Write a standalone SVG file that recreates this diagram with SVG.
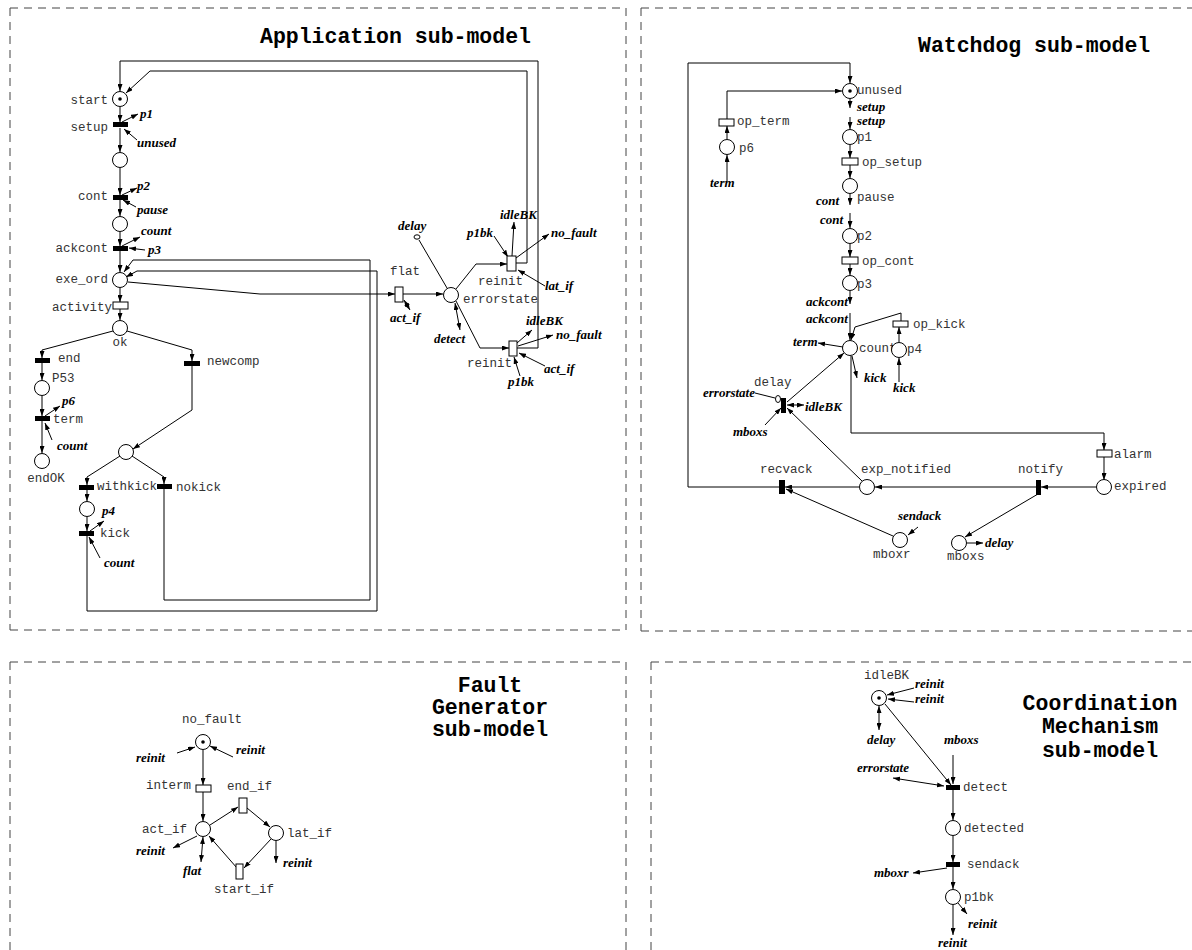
<svg xmlns="http://www.w3.org/2000/svg" width="1192" height="950" viewBox="0 0 1192 950">
<style>
.pl{fill:#fff;stroke:#000;stroke-width:1}
.tk{fill:#000}
.tb{fill:#000}
.tw{fill:#fff;stroke:#000;stroke-width:1}
.lb{font-family:"Liberation Mono",monospace;font-size:12.5px;fill:#333}
.rf{font-family:"Liberation Serif",serif;font-style:italic;font-weight:bold;font-size:13px;fill:#000}
.tt{font-family:"Liberation Mono",monospace;font-weight:bold;font-size:21.5px;fill:#000}
.a{fill:none;stroke:#000;stroke-width:1;marker-end:url(#ah)}
.d{fill:none;stroke:#000;stroke-width:1;marker-end:url(#ah);marker-start:url(#ah)}
.ln{fill:none;stroke:#000;stroke-width:1}
.dash{fill:none;stroke:#444;stroke-width:1;stroke-dasharray:8 6}
</style>
<defs>
<marker id="ah" viewBox="0 0 7 5" refX="7" refY="2.5" markerWidth="7" markerHeight="5" markerUnits="userSpaceOnUse" orient="auto-start-reverse"><path d="M0,0 L7,2.5 L0,5 z" fill="#000"/></marker>
</defs>
<rect width="1192" height="950" fill="#fff"/>

<!-- panel borders -->
<g id="panels">
<path class="dash" d="M10,8 H626"/>
<path class="dash" d="M10,8 V630"/>
<path class="dash" d="M10,630 H626"/>
<path class="dash" d="M626,8 V630"/>
<path class="dash" d="M641,8 H1192"/>
<path class="dash" d="M641,8 V631"/>
<path class="dash" d="M641,631 H1192"/>
<path class="dash" d="M10,662 H626"/>
<path class="dash" d="M10,662 V950"/>
<path class="dash" d="M626,662 V950"/>
<path class="dash" d="M651,662 H1192"/>
<path class="dash" d="M651,662 V950"/>
</g>

<!-- titles -->
<g id="titles">
<text class="tt" x="260" y="43">Application sub-model</text>
<text class="tt" x="918" y="52">Watchdog sub-model</text>
<text class="tt" x="490" y="692" text-anchor="middle">Fault</text>
<text class="tt" x="490" y="714" text-anchor="middle">Generator</text>
<text class="tt" x="490" y="736" text-anchor="middle">sub-model</text>
<text class="tt" x="1100" y="710" text-anchor="middle">Coordination</text>
<text class="tt" x="1100" y="733" text-anchor="middle">Mechanism</text>
<text class="tt" x="1100" y="757" text-anchor="middle">sub-model</text>
</g>

<!-- connectors -->
<g id="connectors">
<!-- application -->
<path class="a" d="M120,107 L120,122"/>
<path class="a" d="M122,122 L138,114"/>
<path class="a" d="M137,140 L124,129"/>
<path class="a" d="M120,128 L120,152"/>
<path class="a" d="M120,168 L120,195"/>
<path class="a" d="M122,195 L137,188"/>
<path class="a" d="M136,207 L123,200"/>
<path class="a" d="M120,200 L120,216"/>
<path class="a" d="M120,232 L120,246"/>
<path class="a" d="M122,246 L140,237"/>
<path class="a" d="M145,250 L129,248"/>
<path class="a" d="M120,251 L120,272"/>
<path class="a" d="M120,288 L120,302"/>
<path class="a" d="M120,309 L120,320"/>
<path class="a" d="M113,331 L42,350 L42,358"/>
<path class="a" d="M127,331 L192,350 L192,361"/>
<path class="a" d="M42,363 L42,380"/>
<path class="a" d="M42,396 L42,416"/>
<path class="a" d="M45,416 L60,406"/>
<path class="a" d="M52,440 L45,423"/>
<path class="a" d="M42,421 L42,453"/>
<path class="a" d="M192,366 L192,410 L133,449"/>
<path class="a" d="M120,456 L87,477 L87,485"/>
<path class="a" d="M132,456 L164,477 L164,484"/>
<path class="a" d="M87,490 L87,501"/>
<path class="a" d="M87,517 L87,531"/>
<path class="a" d="M90,531 L104,521"/>
<path class="a" d="M100,558 L89,537"/>
<path class="a" d="M87,536 L87,611 L377,611 L377,271 L137,271 L126,277"/>
<path class="a" d="M164,489 L164,600 L370,600 L370,260 L133,260 L124,272"/>
<path class="a" d="M128,282 L260,294 L395,294"/>
<path class="d" d="M404,300 L410,310"/>
<path class="a" d="M403,294 L443,294"/>
<path class="ln" d="M419,240 L447,288"/>
<ellipse class="pl" cx="417" cy="237" rx="3" ry="2.2"/>
<path class="d" d="M455,303 L460,330"/>
<path class="a" d="M456,289 L476,264 L507,264"/>
<path class="a" d="M456,301 L480,348 L509,348"/>
<path class="a" d="M512,256 L514,222"/>
<path class="a" d="M494,236 L508,257"/>
<path class="a" d="M516,258 L549,234"/>
<path class="a" d="M545,286 L518,270"/>
<path class="a" d="M516,263 L527,263 L527,71 L150,71 L126,93"/>
<path class="a" d="M517,348 L538,348 L538,61 L120,61 L120,91"/>
<path class="a" d="M517,343 L532,330"/>
<path class="a" d="M518,346 L553,335"/>
<path class="a" d="M545,366 L519,353"/>
<path class="a" d="M520,376 L514,357"/>
<!-- watchdog -->
<path class="a" d="M779,487 L688,487 L688,63 L850,63 L850,83"/>
<path class="a" d="M727,119 L727,91 L842,91"/>
<path class="a" d="M727,139 L727,126"/>
<path class="a" d="M727,182 L727,155"/>
<path class="a" d="M850,99 L850,108"/>
<path class="a" d="M850,117 L850,129"/>
<path class="a" d="M850,145 L850,158"/>
<path class="a" d="M850,165 L850,178"/>
<path class="a" d="M850,194 L850,205"/>
<path class="a" d="M850,213 L850,228"/>
<path class="a" d="M850,244 L850,257"/>
<path class="a" d="M850,264 L850,275"/>
<path class="a" d="M850,291 L850,304"/>
<path class="a" d="M850,313 L850,340"/>
<path class="a" d="M901,321 L901,313 L855,327 L851,340"/>
<path class="a" d="M899,342 L899,327"/>
<path class="a" d="M899,382 L899,358"/>
<path class="a" d="M852,356 L857,378"/>
<path class="a" d="M843,347 L818,343"/>
<path class="a" d="M787,402 L844,353"/>
<path class="ln" d="M755,393 L775,398"/>
<ellipse class="pl" cx="778" cy="399" rx="2.5" ry="3.5"/>
<path class="d" d="M787,405 L804,405"/>
<path class="a" d="M765,425 L781,408"/>
<path class="a" d="M862,481 L787,408"/>
<path class="a" d="M851,356 L851,433 L1104,433 L1104,450"/>
<path class="a" d="M1104,457 L1104,480"/>
<path class="a" d="M1096,487 L1041,487"/>
<path class="a" d="M1036,487 L875,487"/>
<path class="a" d="M859,487 L785,487"/>
<path class="a" d="M893,536 L786,489"/>
<path class="a" d="M918,527 L908,535"/>
<path class="a" d="M1038,494 L965,537"/>
<path class="a" d="M967,543 L983,543"/>
<!-- fault generator -->
<path class="a" d="M177,753 L195,747"/>
<path class="a" d="M233,757 L210,746"/>
<path class="a" d="M203,750 L203,785"/>
<path class="a" d="M203,792 L203,821"/>
<path class="a" d="M210,825 L238,807"/>
<path class="a" d="M247,808 L270,827"/>
<path class="a" d="M271,839 L244,868"/>
<path class="a" d="M237,868 L209,836"/>
<path class="a" d="M197,836 L173,848"/>
<path class="d" d="M203,837 L201,862"/>
<path class="a" d="M276,841 L276,863"/>
<!-- coordination -->
<path class="a" d="M914,688 L887,695"/>
<path class="a" d="M914,702 L888,699"/>
<path class="d" d="M879,706 L879,730"/>
<path class="a" d="M885,704 L951,785"/>
<path class="a" d="M953,755 L953,784"/>
<path class="d" d="M893,778 L944,786"/>
<path class="a" d="M953,790 L953,820"/>
<path class="a" d="M953,836 L953,862"/>
<path class="a" d="M947,868 L913,873"/>
<path class="a" d="M953,867 L953,889"/>
<path class="a" d="M958,903 L967,914"/>
<path class="a" d="M953,905 L953,935"/>

<!-- arc inscriptions naming places/transitions of other sub-models -->
<text class="rf" x="140" y="118">p1</text>
<text class="rf" x="137" y="147">unused</text>
<text class="rf" x="137" y="190">p2</text>
<text class="rf" x="137" y="214">pause</text>
<text class="rf" x="141" y="235">count</text>
<text class="rf" x="148" y="254">p3</text>
<text class="rf" x="62" y="405">p6</text>
<text class="rf" x="57" y="450">count</text>
<text class="rf" x="102" y="515">p4</text>
<text class="rf" x="104" y="567">count</text>
<text class="rf" x="398" y="230">delay</text>
<text class="rf" x="390" y="322">act_if</text>
<text class="rf" x="434" y="343">detect</text>
<text class="rf" x="500" y="219">idleBK</text>
<text class="rf" x="467" y="237">p1bk</text>
<text class="rf" x="551" y="237">no_fault</text>
<text class="rf" x="545" y="290">lat_if</text>
<text class="rf" x="526" y="325">idleBK</text>
<text class="rf" x="556" y="339">no_fault</text>
<text class="rf" x="544" y="373">act_if</text>
<text class="rf" x="508" y="386">p1bk</text>
<text class="rf" x="857" y="111">setup</text>
<text class="rf" x="857" y="125">setup</text>
<text class="rf" x="710" y="187">term</text>
<text class="rf" x="816" y="205">cont</text>
<text class="rf" x="820" y="224">cont</text>
<text class="rf" x="806" y="306">ackcont</text>
<text class="rf" x="806" y="323">ackcont</text>
<text class="rf" x="793" y="346">term</text>
<text class="rf" x="864" y="382">kick</text>
<text class="rf" x="893" y="392">kick</text>
<text class="rf" x="703" y="397">errorstate</text>
<text class="rf" x="805" y="411">idleBK</text>
<text class="rf" x="733" y="436">mboxs</text>
<text class="rf" x="898" y="520">sendack</text>
<text class="rf" x="985" y="547">delay</text>
<text class="rf" x="136" y="762">reinit</text>
<text class="rf" x="236" y="754">reinit</text>
<text class="rf" x="136" y="855">reinit</text>
<text class="rf" x="183" y="875">flat</text>
<text class="rf" x="283" y="867">reinit</text>
<text class="rf" x="915" y="688">reinit</text>
<text class="rf" x="915" y="703">reinit</text>
<text class="rf" x="867" y="744">delay</text>
<text class="rf" x="944" y="744">mboxs</text>
<text class="rf" x="857" y="772">errorstate</text>
<text class="rf" x="874" y="877">mboxr</text>
<text class="rf" x="968" y="928">reinit</text>
<text class="rf" x="938" y="947">reinit</text>
</g>

<!-- application sub-model nodes -->
<g id="app-start"><circle class="pl" cx="120" cy="99" r="7.5"/><circle class="tk" cx="120" cy="99" r="1.8"/><text class="lb" x="108" y="104" text-anchor="end">start</text></g>
<g id="app-setup"><rect class="tb" x="113" y="122" width="15" height="5"/><text class="lb" x="108" y="131" text-anchor="end">setup</text></g>
<g id="app-p-setup"><circle class="pl" cx="120" cy="160" r="7.5"/></g>
<g id="app-cont"><rect class="tb" x="113" y="195" width="15" height="5"/><text class="lb" x="108" y="200" text-anchor="end">cont</text></g>
<g id="app-p-cont"><circle class="pl" cx="120" cy="224" r="7.5"/></g>
<g id="app-ackcont"><rect class="tb" x="113" y="246" width="15" height="5"/><text class="lb" x="108" y="252" text-anchor="end">ackcont</text></g>
<g id="app-exe_ord"><circle class="pl" cx="120" cy="280" r="7.5"/><text class="lb" x="108" y="283" text-anchor="end">exe_ord</text></g>
<g id="app-activity"><rect class="tw" x="113" y="302" width="15" height="7"/><text class="lb" x="112" y="311" text-anchor="end">activity</text></g>
<g id="app-ok"><circle class="pl" cx="120" cy="328" r="7.5"/><text class="lb" x="120" y="346" text-anchor="middle">ok</text></g>
<g id="app-end"><rect class="tb" x="35" y="358" width="15" height="5"/><text class="lb" x="58" y="362">end</text></g>
<g id="app-newcomp"><rect class="tb" x="184" y="361" width="16" height="5"/><text class="lb" x="207" y="365">newcomp</text></g>
<g id="app-P53"><circle class="pl" cx="42" cy="388" r="7.5"/><text class="lb" x="52" y="382">P53</text></g>
<g id="app-term"><rect class="tb" x="35" y="416" width="15" height="5"/><text class="lb" x="53" y="423">term</text></g>
<g id="app-endOK"><circle class="pl" cx="42" cy="461" r="7.5"/><text class="lb" x="46" y="482" text-anchor="middle">endOK</text></g>
<g id="app-p-new"><circle class="pl" cx="126" cy="452" r="7.5"/></g>
<g id="app-withkick"><rect class="tb" x="79" y="485" width="15" height="5"/><text class="lb" x="97" y="490">withkick</text></g>
<g id="app-nokick"><rect class="tb" x="157" y="484" width="15" height="5"/><text class="lb" x="176" y="491">nokick</text></g>
<g id="app-p-kick"><circle class="pl" cx="87" cy="509" r="7.5"/></g>
<g id="app-kick"><rect class="tb" x="79" y="531" width="15" height="5"/><text class="lb" x="100" y="537">kick</text></g>
<g id="app-flat"><rect class="tw" x="395" y="287" width="8" height="15"/><text class="lb" x="390" y="275">flat</text></g>
<g id="app-errorstate"><circle class="pl" cx="451" cy="295" r="7.5"/><text class="lb" x="463" y="303">errorstate</text></g>
<g id="app-reinit1"><rect class="tw" x="507" y="256" width="9" height="15"/><text class="lb" x="478" y="285">reinit</text></g>
<g id="app-reinit2"><rect class="tw" x="509" y="341" width="8" height="15"/><text class="lb" x="467" y="367">reinit</text></g>

<!-- watchdog sub-model nodes -->
<g id="wd-unused"><circle class="pl" cx="850" cy="91" r="7.5"/><circle class="tk" cx="850" cy="91" r="1.8"/><text class="lb" x="857" y="94">unused</text></g>
<g id="wd-op_term"><rect class="tw" x="719" y="119" width="15" height="7"/><text class="lb" x="737" y="125">op_term</text></g>
<g id="wd-p6"><circle class="pl" cx="727" cy="147" r="7.5"/><text class="lb" x="739" y="152">p6</text></g>
<g id="wd-p1"><circle class="pl" cx="850" cy="137" r="7.5"/><text class="lb" x="857" y="141">p1</text></g>
<g id="wd-op_setup"><rect class="tw" x="842" y="158" width="16" height="7"/><text class="lb" x="862" y="166">op_setup</text></g>
<g id="wd-pause"><circle class="pl" cx="850" cy="186" r="7.5"/><text class="lb" x="857" y="201">pause</text></g>
<g id="wd-p2"><circle class="pl" cx="850" cy="236" r="7.5"/><text class="lb" x="857" y="240">p2</text></g>
<g id="wd-op_cont"><rect class="tw" x="842" y="257" width="16" height="7"/><text class="lb" x="862" y="265">op_cont</text></g>
<g id="wd-p3"><circle class="pl" cx="850" cy="283" r="7.5"/><text class="lb" x="857" y="288">p3</text></g>
<g id="wd-count"><circle class="pl" cx="850" cy="348" r="7.5"/><text class="lb" x="859" y="352">count</text></g>
<g id="wd-p4"><circle class="pl" cx="899" cy="350" r="7.5"/><text class="lb" x="907" y="353">p4</text></g>
<g id="wd-op_kick"><rect class="tw" x="893" y="321" width="15" height="6"/><text class="lb" x="913" y="328">op_kick</text></g>
<g id="wd-delay"><rect class="tb" x="781" y="398" width="5" height="15"/><text class="lb" x="754" y="386">delay</text></g>
<g id="wd-recvack"><rect class="tb" x="779" y="480" width="6" height="14"/><text class="lb" x="760" y="473">recvack</text></g>
<g id="wd-exp_notified"><circle class="pl" cx="867" cy="487" r="7.5"/><text class="lb" x="861" y="473">exp_notified</text></g>
<g id="wd-notify"><rect class="tb" x="1036" y="480" width="5" height="15"/><text class="lb" x="1018" y="473">notify</text></g>
<g id="wd-alarm"><rect class="tw" x="1097" y="450" width="15" height="7"/><text class="lb" x="1114" y="458">alarm</text></g>
<g id="wd-expired"><circle class="pl" cx="1104" cy="487" r="7.5"/><text class="lb" x="1114" y="490">expired</text></g>
<g id="wd-mboxr"><circle class="pl" cx="900" cy="540" r="7.5"/><text class="lb" x="873" y="558">mboxr</text></g>
<g id="wd-mboxs"><circle class="pl" cx="959" cy="543" r="7.5"/><text class="lb" x="947" y="560">mboxs</text></g>

<!-- fault generator sub-model nodes -->
<g id="fg-no_fault"><circle class="pl" cx="203" cy="742" r="7.5"/><circle class="tk" cx="203" cy="742" r="1.8"/><text class="lb" x="182" y="723">no_fault</text></g>
<g id="fg-interm"><rect class="tw" x="196" y="785" width="15" height="7"/><text class="lb" x="146" y="789">interm</text></g>
<g id="fg-end_if"><rect class="tw" x="239" y="798" width="8" height="15"/><text class="lb" x="227" y="790">end_if</text></g>
<g id="fg-act_if"><circle class="pl" cx="203" cy="829" r="7.5"/><text class="lb" x="142" y="833">act_if</text></g>
<g id="fg-lat_if"><circle class="pl" cx="276" cy="833" r="7.5"/><text class="lb" x="287" y="837">lat_if</text></g>
<g id="fg-start_if"><rect class="tw" x="236" y="864" width="7" height="15"/><text class="lb" x="214" y="893">start_if</text></g>

<!-- coordination mechanism sub-model nodes -->
<g id="cm-idleBK"><circle class="pl" cx="879" cy="698" r="7.5"/><circle class="tk" cx="879" cy="698" r="1.8"/><text class="lb" x="864" y="679">idleBK</text></g>
<g id="cm-detect"><rect class="tb" x="946" y="785" width="14" height="5"/><text class="lb" x="963" y="791">detect</text></g>
<g id="cm-detected"><circle class="pl" cx="953" cy="828" r="7.5"/><text class="lb" x="964" y="832">detected</text></g>
<g id="cm-sendack"><rect class="tb" x="946" y="862" width="14" height="5"/><text class="lb" x="967" y="868">sendack</text></g>
<g id="cm-p1bk"><circle class="pl" cx="953" cy="897" r="7.5"/><text class="lb" x="964" y="901">p1bk</text></g>
</svg>
